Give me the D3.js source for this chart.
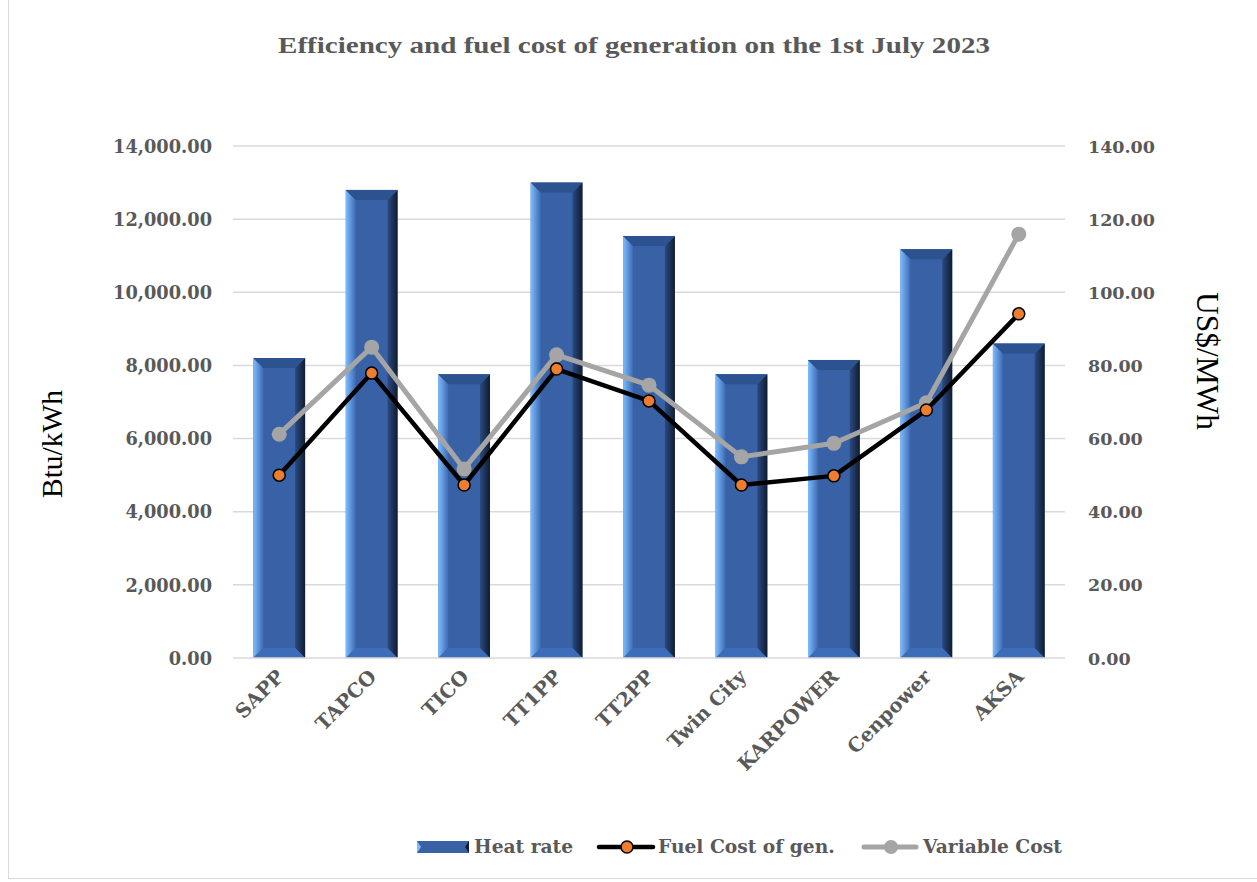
<!DOCTYPE html>
<html><head><meta charset="utf-8">
<script src="https://cdn.jsdelivr.net/npm/d3@7"></script>
<style>body{margin:0;background:#fff}svg{display:block}</style>
</head><body>
<script>
const categories = ["SAPP","TAPCO","TICO","TT1PP","TT2PP","Twin City","KARPOWER","Cenpower","AKSA"];
const heatRate = [8200,12800,7760,13000,11540,7760,8150,11180,8600];
const fuelCost = [50.0,77.9,47.3,79.0,70.3,47.3,49.8,67.8,94.1];
const variableCost = [61.2,85.0,51.7,82.9,74.6,55.0,58.7,69.8,115.9];
const leftTicks = [0,2000,4000,6000,8000,10000,12000,14000];
const rightTicks = [0,20,40,60,80,100,120,140];

const W=1257,H=882;
const FONT="'Liberation Serif','DejaVu Serif',serif";
const BFONT="'DejaVu Serif','Liberation Serif',serif";
const TXT="#595959";
const svg=d3.select("body").append("svg").attr("width",W).attr("height",H);
svg.append("rect").attr("x",8.5).attr("y",-2).attr("width",W).attr("height",H-1.5).attr("fill","#fff").attr("stroke","#d9d9d9");

// scale font-size of a selection so that a reference node's width matches target
function fit(sel, refNode, target){
  const fs=parseFloat(d3.select(refNode).attr("font-size"));
  const w=refNode.getComputedTextLength();
  sel.attr("font-size",fs*target/w);
}

const pl=233,pr=1065,pt=146,pb=658;
const x=d3.scaleBand().domain(categories).range([pl,pr]).paddingInner(0.44).paddingOuter(0.22);
const yL=d3.scaleLinear().domain([0,14000]).range([pb,pt]);
const yR=d3.scaleLinear().domain([0,140]).range([pb,pt]);

const defs=svg.append("defs");
const gl=defs.append("linearGradient").attr("id","gl");
gl.append("stop").attr("offset",0).attr("stop-color","#7cbcff");
gl.append("stop").attr("offset",1).attr("stop-color","#3e6ab2");
const gr=defs.append("linearGradient").attr("id","gr");
gr.append("stop").attr("offset",0).attr("stop-color","#2a4a82");
gr.append("stop").attr("offset",1).attr("stop-color","#111c30");

// gridlines
svg.append("g").selectAll("line").data(leftTicks.slice(1)).join("line")
 .attr("x1",pl).attr("x2",pr).attr("y1",d=>yL(d)).attr("y2",d=>yL(d))
 .attr("stroke","#d9d9d9").attr("stroke-width",1.5);

// bars
const bw=x.bandwidth(), b=10;
const bars=svg.append("g").selectAll("g").data(categories).join("g");
bars.each(function(c,i){
  const g=d3.select(this);
  const x0=x(c),x1=x0+bw,y0=yL(heatRate[i]),y1=yL(0);
  g.append("rect").attr("x",x0).attr("y",y0).attr("width",bw).attr("height",y1-y0).attr("fill","#3961a6");
  g.append("polygon").attr("points",[[x0,y0],[x0+b,y0+b],[x0+b,y1-b],[x0,y1]].join(" ")).attr("fill","url(#gl)");
  g.append("polygon").attr("points",[[x1,y0],[x1-b,y0+b],[x1-b,y1-b],[x1,y1]].join(" ")).attr("fill","url(#gr)");
  g.append("polygon").attr("points",[[x0,y0],[x1,y0],[x1-b,y0+b],[x0+b,y0+b]].join(" ")).attr("fill","#2d5290");
  g.append("polygon").attr("points",[[x0,y1],[x1,y1],[x1-b,y1-b],[x0+b,y1-b]].join(" ")).attr("fill","#3d6cb8");
});

// baseline
svg.append("line").attr("x1",pl).attr("x2",pr).attr("y1",pb).attr("y2",pb).attr("stroke","#d9d9d9").attr("stroke-width",1.5);

const cx=c=>x(c)+bw/2;
// variable cost line
svg.append("path").datum(variableCost).attr("fill","none").attr("stroke","#a5a5a5").attr("stroke-width",5).attr("stroke-linejoin","round")
 .attr("d",d3.line().x((d,i)=>cx(categories[i])).y(d=>yR(d)));
svg.append("g").selectAll("circle").data(variableCost).join("circle")
 .attr("cx",(d,i)=>cx(categories[i])).attr("cy",d=>yR(d)).attr("r",7.5).attr("fill","#a5a5a5");
// fuel cost line
svg.append("path").datum(fuelCost).attr("fill","none").attr("stroke","#000").attr("stroke-width",4.5).attr("stroke-linejoin","round")
 .attr("d",d3.line().x((d,i)=>cx(categories[i])).y(d=>yR(d)));
svg.append("g").selectAll("circle").data(fuelCost).join("circle")
 .attr("cx",(d,i)=>cx(categories[i])).attr("cy",d=>yR(d)).attr("r",6).attr("fill","#ed7d31").attr("stroke","#000").attr("stroke-width",1.5);

// axes
const fmtL=d3.format(",.2f"), fmtR=d3.format(".2f");
const axL=svg.append("g").attr("transform",`translate(212,0)`).call(d3.axisLeft(yL).tickValues(leftTicks).tickFormat(fmtL).tickSize(0).tickPadding(0));
const axR=svg.append("g").attr("transform",`translate(1088,0)`).call(d3.axisRight(yR).tickValues(rightTicks).tickFormat(fmtR).tickSize(0).tickPadding(0));
[axL,axR].forEach(a=>{a.select(".domain").remove();a.selectAll("text").attr("font-family",BFONT).attr("font-weight","bold").attr("font-size",16).attr("fill",TXT).attr("dy","0.35em");});
const lt=axL.selectAll("text").nodes();
fit(axL.selectAll("text"), lt[lt.length-1], 99);
const rt=axR.selectAll("text").nodes();
fit(axR.selectAll("text"), rt[rt.length-1], 67);

const axX=svg.append("g").attr("transform",`translate(0,${pb})`).call(d3.axisBottom(x).tickSize(0).tickPadding(0));
axX.select(".domain").remove();
const xt=axX.selectAll("text").attr("font-family",BFONT).attr("font-weight","bold").attr("font-size",16).attr("fill",TXT)
 .attr("text-anchor","end").attr("dy",0).attr("transform","translate(6,20) rotate(-45)");
fit(xt, xt.nodes()[6], 133);

// axis titles
const t1=svg.append("text").attr("transform","translate(62,444) rotate(-90)").attr("text-anchor","middle")
 .attr("font-family",FONT).attr("font-size",26).attr("fill","#000").text("Btu/kWh");
fit(t1,t1.node(),108);
const t2=svg.append("text").attr("transform","translate(1197,361) rotate(90)").attr("text-anchor","middle")
 .attr("font-family",FONT).attr("font-size",28).attr("fill","#000").text("US$/MWh");
fit(t2,t2.node(),138);

// title
svg.append("text").attr("x",634).attr("y",53).attr("text-anchor","middle").attr("font-family",FONT).attr("font-weight","bold")
 .attr("font-size",24).attr("fill",TXT).attr("textLength",712).attr("lengthAdjust","spacingAndGlyphs")
 .text("Efficiency and fuel cost of generation on the 1st July 2023");

// legend
const ly=847;
const lg=svg.append("g");
const sw=lg.append("g");
sw.append("rect").attr("x",417).attr("y",ly-6).attr("width",52).attr("height",12).attr("fill","#3961a6");
sw.append("polygon").attr("points",[[417,ly-6],[421,ly],[417,ly+6]].join(" ")).attr("fill","#7cbcff");
sw.append("polygon").attr("points",[[469,ly-6],[465,ly],[469,ly+6]].join(" ")).attr("fill","#111c30");
const lt1=lg.append("text").attr("x",474).attr("y",ly+6).attr("font-family",BFONT).attr("font-weight","bold").attr("font-size",18).attr("fill",TXT).text("Heat rate");
lg.append("line").attr("x1",599).attr("x2",653).attr("y1",ly).attr("y2",ly).attr("stroke","#000").attr("stroke-width",4.5).attr("stroke-linecap","round");
lg.append("circle").attr("cx",627).attr("cy",ly).attr("r",6).attr("fill","#ed7d31").attr("stroke","#000").attr("stroke-width",1.5);
const lt2=lg.append("text").attr("x",658).attr("y",ly+6).attr("font-family",BFONT).attr("font-weight","bold").attr("font-size",18).attr("fill",TXT).text("Fuel Cost of gen.");
lg.append("line").attr("x1",864).attr("x2",916).attr("y1",ly).attr("y2",ly).attr("stroke","#a5a5a5").attr("stroke-width",5).attr("stroke-linecap","round");
lg.append("circle").attr("cx",891).attr("cy",ly).attr("r",7).attr("fill","#a5a5a5");
const lt3=lg.append("text").attr("x",923).attr("y",ly+6).attr("font-family",BFONT).attr("font-weight","bold").attr("font-size",18).attr("fill",TXT).text("Variable Cost");
fit(lg.selectAll("text"), lt2.node(), 177);
</script>
</body></html>
